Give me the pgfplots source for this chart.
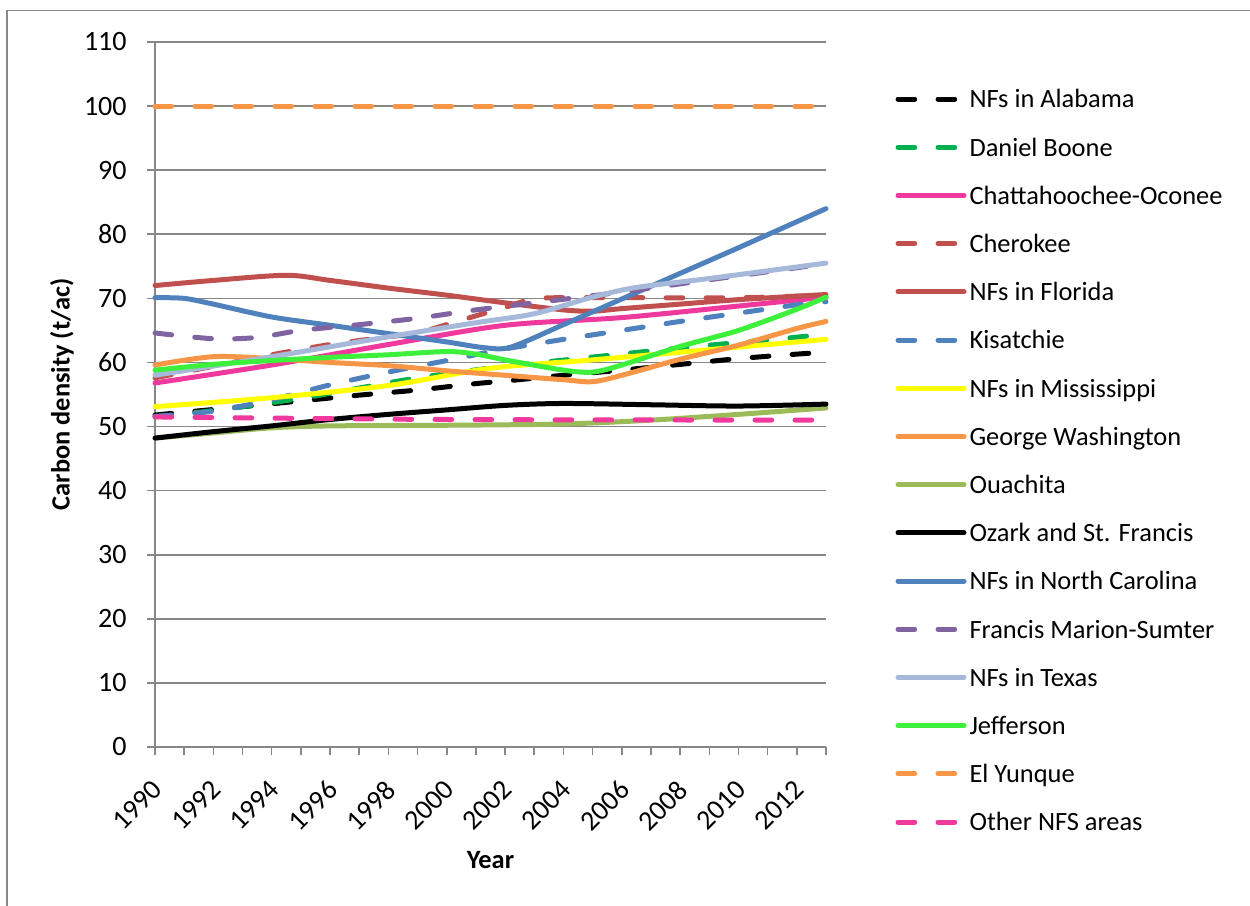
\documentclass[border=0pt]{standalone}
\usepackage{pgfplots}
\pgfplotsset{compat=1.18}
\usepackage{fontspec}
\setmainfont{Carlito}
\definecolor{axgray}{HTML}{878787}
\definecolor{dboone}{HTML}{00B050}
\definecolor{hpink}{HTML}{F0399C}
\definecolor{xred}{HTML}{C0504D}
\definecolor{xblue}{HTML}{4F81BD}
\definecolor{xyellow}{HTML}{FFFF00}
\definecolor{xorange}{HTML}{F79646}
\definecolor{xolive}{HTML}{9BBB59}
\definecolor{xpurple}{HTML}{8064A2}
\definecolor{xltblue}{HTML}{A7B9DB}
\definecolor{xgreen}{HTML}{3CF03C}
\begin{document}
\begin{tikzpicture}
\path[use as bounding box] (-77.5pt,-79.5pt) rectangle (547.5pt,373.5pt);
\draw[axgray, line width=0.8pt] (-74pt,-79.5pt) -- (-74pt,368.25pt) -- (547.5pt,368.25pt);
\begin{axis}[
  at={(0,0)}, anchor=south west,
  scale only axis, width=335.5pt, height=352.5pt,
  xmin=1990, xmax=2013, ymin=0, ymax=110,
  clip=false,
  axis x line*=bottom, axis y line*=left,
  axis line style={axgray, line width=0.8pt, -},
  tick style={axgray, line width=0.8pt},
  tick align=outside,
  major tick length=4pt, minor tick length=4pt,
  xtick={1990,1992,...,2012}, minor xtick={1991,1993,...,2013},
  ytick={0,10,...,110},
  ymajorgrids, major grid style={axgray, line width=0.8pt},
  /pgf/number format/assume math mode=true,
  /pgf/number format/1000 sep={},
  tick label style={font=\fontsize{14}{16}\selectfont, black},
  yticklabel style={anchor=east, inner sep=0pt, xshift=-10pt},
  xticklabel style={xshift=-2pt, yshift=-11.5pt, rotate=45, anchor=north east, inner sep=0pt},
  xlabel={Year}, ylabel={Carbon density (t/ac)},
  label style={font=\bfseries\fontsize{13.2}{15}\selectfont},
  xlabel style={at={(axis description cs:0.5,-0.160)}, anchor=center},
  ylabel style={at={(axis description cs:-0.1386,0.5)}, anchor=center, rotate=0},
  legend style={at={(1.1036,0.9336)}, anchor=north west, draw=none, fill=none,
    inner sep=0pt, outer sep=0pt, row sep=11.6pt, column sep=1.5pt,
    font=\fontsize{13.2}{15}\selectfont,
    nodes={inner sep=0pt, text height=9.5pt, text depth=3pt},
    cells={anchor=base west}},
  legend image code/.code={\draw[#1, line width=2.5pt, line cap=round] (0pt,4.4pt) -- (33pt,4.4pt);},
  every axis plot/.append style={line width=2.5pt, line cap=round, line join=round, no markers},
  dsh/.style={dash pattern=on 8.35pt off 11.65pt},
]
\addplot[black, dsh, smooth] coordinates {(1990,51.8)(1993,53.1)(1995,54.0)(1997,54.9)(1999,55.7)(2001,56.7)(2002,57.1)(2004,58.0)(2006,58.8)(2008,59.7)(2010,60.6)(2012,61.3)(2013,61.6)};
\addlegendentry{NFs in Alabama}
\addplot[dboone, dsh, smooth] coordinates {(1990,51.5)(1992,52.5)(1995,54.4)(1999,57.6)(2002,59.4)(2004.5,60.6)(2007,61.8)(2009,62.7)(2011,63.5)(2013,64.4)};
\addlegendentry{Daniel Boone}
\addplot[hpink, smooth] coordinates {(1990,56.8)(1994,59.6)(1998,62.8)(2002,65.8)(2006,67.0)(2010,68.8)(2013,70.2)};
\addlegendentry{Chattahoochee-Oconee}
\addplot[xred, dsh, smooth] coordinates {(1990,57.6)(1992,59.4)(1994,61.2)(1996,62.8)(1998,64.0)(1999,64.6)(2000.5,66.6)(2002,68.6)(2003.2,70.0)(2006,70.1)(2010,70.1)(2013,70.5)};
\addlegendentry{Cherokee}
\addplot[xred, smooth] coordinates {(1990,72.0)(1992,72.8)(1994.5,73.6)(1996,72.8)(1998,71.6)(2000,70.5)(2002,69.3)(2004,68.2)(2005,68.0)(2006,68.4)(2008,69.1)(2010,69.8)(2013,70.6)};
\addlegendentry{NFs in Florida}
\addplot[xblue, dsh, smooth] coordinates {(1990,51.6)(1992,52.4)(1994,54.2)(1996,56.5)(1998,58.5)(2000,60.3)(2002,62.1)(2004,63.6)(2006,65.0)(2008,66.4)(2010,67.7)(2012,69.0)(2013,69.5)};
\addlegendentry{Kisatchie}
\addplot[xyellow, smooth] coordinates {(1990,53.1)(1994,54.5)(1998,56.4)(2001.5,59.1)(2005,60.4)(2009,62.0)(2013,63.6)};
\addlegendentry{NFs in Mississippi}
\addplot[xorange, smooth] coordinates {(1990,59.6)(1992,60.9)(1994,60.6)(1996,60.0)(1998,59.5)(2000,58.7)(2002,58.0)(2004,57.3)(2005,57.0)(2006,58.0)(2008,60.5)(2010,62.7)(2012,65.3)(2013,66.4)};
\addlegendentry{George Washington}
\addplot[xolive, smooth] coordinates {(1990,48.2)(1992,49.0)(1994,49.8)(1996,50.1)(2000,50.2)(2004,50.4)(2007,51.0)(2010,51.9)(2013,52.9)};
\addlegendentry{Ouachita}
\addplot[black, smooth] coordinates {(1990,48.2)(1992,49.2)(1994,50.1)(1996,51.1)(1998,51.9)(2000,52.6)(2002,53.3)(2004,53.6)(2007,53.4)(2010,53.2)(2013,53.5)};
\addlegendentry{Ozark and St. Francis}
\addplot[xblue, smooth] coordinates {(1990,70.1)(1991,70.0)(1992,69.1)(1994,67.1)(1996,65.8)(1998,64.5)(2000,63.2)(2001.3,62.3)(2002.2,62.4)(2004,65.9)(2006,69.9)(2008,73.9)(2010,77.9)(2013,84.0)};
\addlegendentry{NFs in North Carolina}
\addplot[xpurple, dsh, smooth] coordinates {(1990,64.6)(1992,63.7)(1993.5,63.9)(1995,65.0)(1997,65.9)(1999,66.9)(2001,68.2)(2003,69.3)(2006,71.0)(2009,72.9)(2013,75.4)};
\addlegendentry{Francis Marion-Sumter}
\addplot[xltblue, smooth] coordinates {(1990,58.0)(1994,60.9)(1998,64.0)(2001,66.2)(2003,67.6)(2005,70.2)(2006.5,71.7)(2009,73.1)(2013,75.5)};
\addlegendentry{NFs in Texas}
\addplot[xgreen, smooth] coordinates {(1990,58.8)(1992,59.7)(1994,60.3)(1996,60.8)(1998,61.2)(2000,61.7)(2001,61.3)(2002,60.4)(2004,58.8)(2005,58.5)(2006,59.6)(2008,62.5)(2010,65.0)(2012,68.3)(2013,70.2)};
\addlegendentry{Jefferson}
\addplot[xorange, dsh] coordinates {(1990,100)(2013,100)};
\addlegendentry{El Yunque}
\addplot[hpink, dsh, smooth] coordinates {(1990,51.5)(2000,51.1)(2013,51.0)};
\addlegendentry{Other NFS areas}
\end{axis}
\end{tikzpicture}
\end{document}
